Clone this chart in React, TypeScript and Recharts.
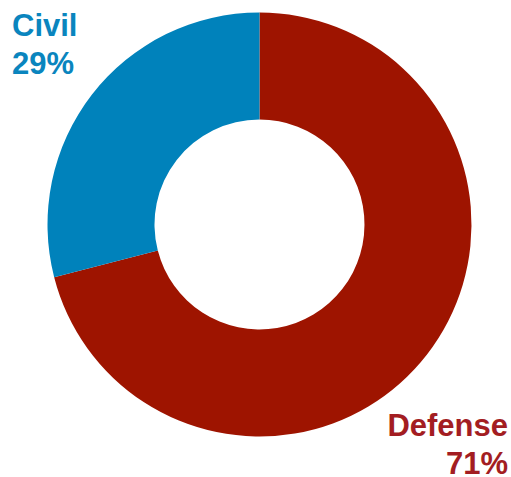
import { PieChart, Pie, Cell } from 'recharts';

const categories = ['Defense', 'Civil'];
const shares = [71, 29];
const colors = ['#9E1400', '#0082BB'];
const labelColors = ['#A31D22', '#0A85BE'];

const data = categories.map((name, i) => ({ name, value: shares[i] }));

const labelStyle = {
  position: 'absolute' as const,
  fontFamily: '"Liberation Sans", Arial, sans-serif',
  fontWeight: 700,
  fontSize: 31,
  lineHeight: '24px',
  whiteSpace: 'nowrap' as const,
};

export default function App() {
  return (
    <div style={{ position: 'absolute', left: 0, top: 0, width: 511, height: 477, background: '#fff' }}>
      <PieChart width={511} height={477} margin={{ top: 0, right: 0, bottom: 0, left: 0 }}>
        <Pie
          data={data}
          dataKey="value"
          nameKey="name"
          cx={259.5}
          cy={224.5}
          innerRadius={105}
          outerRadius={212}
          startAngle={90}
          endAngle={-270}
          stroke="none"
          isAnimationActive={false}
        >
          {data.map((d, i) => (
            <Cell key={d.name} fill={colors[i]} />
          ))}
        </Pie>
      </PieChart>
      <div style={{ ...labelStyle, left: 12, top: 14, color: labelColors[1] }}>{categories[1]}</div>
      <div style={{ ...labelStyle, left: 12, top: 52, color: labelColors[1] }}>{shares[1]}%</div>
      <div style={{ ...labelStyle, right: 3, top: 414, color: labelColors[0], textAlign: 'right' }}>{categories[0]}</div>
      <div style={{ ...labelStyle, right: 3, top: 452, color: labelColors[0], textAlign: 'right' }}>{shares[0]}%</div>
    </div>
  );
}
